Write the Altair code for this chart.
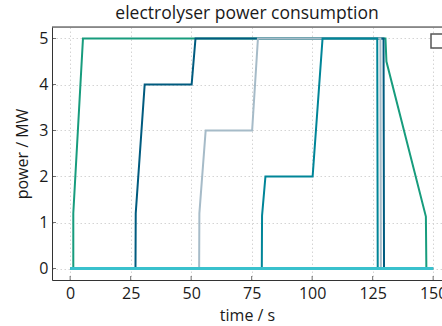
import altair as alt
import pandas as pd

# ---- data ----
x_ticks = [0, 25, 50, 75, 100, 125, 150]
y_ticks = [0, 1, 2, 3, 4, 5]

green_t = [0, 1.3, 1.3, 5.3, 130.3, 130.7, 147.0, 147.2, 150]
green_p = [0, 0, 1.2, 5, 5, 4.5, 1.13, 0, 0]

blue_t = [0, 27.0, 27.1, 30.8, 50.2, 51.8, 129.5, 129.7, 150]
blue_p = [0, 0, 1.2, 4, 4, 5, 5, 0, 0]

light_t = [0, 53.3, 53.4, 56.0, 75.2, 77.6, 128.2, 128.4, 150]
light_p = [0, 0, 1.2, 3, 3, 5, 5, 0, 0]

teal_t = [0, 79.2, 79.3, 80.7, 100.2, 104.3, 126.9, 127.1, 150]
teal_p = [0, 0, 1.15, 2, 2, 5, 5, 0, 0]

cyan_t = [0, 150]
cyan_p = [0, 0]

series = [
    (green_t, green_p, "#179c7d", 2),
    (blue_t, blue_p, "#005b7f", 2),
    (light_t, light_p, "#a6bbc8", 2),
    (teal_t, teal_p, "#008598", 2),
    (cyan_t, cyan_p, "#39c1cd", 3),
]

FONT = "Open Sans"
TXT = "#1a1a1a"
AX = "#333333"

W, H = 390, 253
x_scale = alt.Scale(domain=[-7.5, 153.66], nice=False, zero=False)
y_scale = alt.Scale(domain=[-0.25, 5.25], nice=False, zero=False)

common = dict(grid=True, gridDash=[1.5, 2.5], gridColor="#d4d4d4", gridWidth=1,
              ticks=False, domain=True, domainColor=AX, domainWidth=1,
              labelFont=FONT, labelFontSize=16, labelColor=TXT,
              titleFont=FONT, titleFontSize=16, titleFontWeight="normal",
              titleColor=TXT)
x_axis = alt.Axis(values=x_ticks, title="time / s", labelPadding=5,
                  titlePadding=6, labelFlush=False, labelOverlap=False, **common)
y_axis = alt.Axis(values=y_ticks, title="power / MW", labelPadding=4,
                  titlePadding=8, labelOverlap=False, **common)

X = lambda: alt.X("time:Q", scale=x_scale, axis=x_axis)
Y = lambda: alt.Y("power:Q", scale=y_scale, axis=y_axis)

layers = []
for t, p, col, w in series:
    df = pd.DataFrame({"time": t, "power": p, "idx": list(range(len(t)))})
    layers.append(
        alt.Chart(df).mark_line(color=col, strokeWidth=w, clip=True)
        .encode(x=X(), y=Y(), order="idx:Q")
    )

# inward ticks
layers.append(
    alt.Chart(pd.DataFrame({"time": x_ticks}))
    .mark_tick(orient="vertical", size=4, thickness=1, color=AX)
    .encode(x=X(), y=alt.value(H - 2))
)
layers.append(
    alt.Chart(pd.DataFrame({"power": y_ticks}))
    .mark_tick(orient="horizontal", size=4, thickness=1, color=AX)
    .encode(y=Y(), x=alt.value(2))
)

# top frame line
layers.append(
    alt.Chart(pd.DataFrame({"a": [0]})).mark_rule(color=AX, strokeWidth=1)
    .encode(x=alt.value(0), x2=alt.value(W + 20), y=alt.value(0))
)

# legend frame (empty box at top right, cut by the window)
layers.append(
    alt.Chart(pd.DataFrame({"a": [0]})).mark_rect(fill="white", stroke="#555555", strokeWidth=1.5)
    .encode(x=alt.value(379), x2=alt.value(393), y=alt.value(7), y2=alt.value(21))
)

chart = alt.layer(*layers).properties(
    width=W,
    height=H,
    autosize="none",
    padding={"left": 52, "top": 27, "right": 0, "bottom": 46},
    title=alt.TitleParams("electrolyser power consumption", font=FONT, fontSize=17.5,
                          fontWeight="normal", color=TXT, anchor="middle",
                          offset=-10, baseline="alphabetic"),
).configure_view(stroke=None).configure(background="white")

chart.save("out.html", embed_options={"renderer": "svg", "actions": False})
